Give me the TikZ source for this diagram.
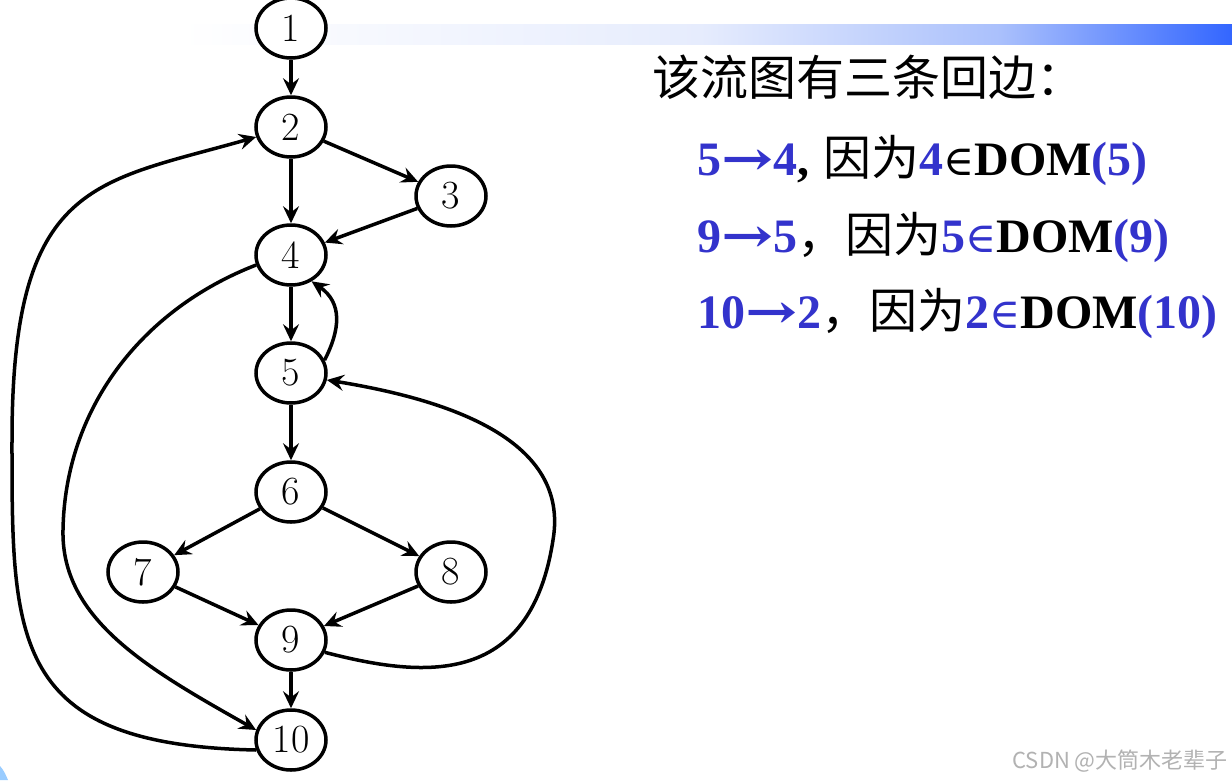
\documentclass[tikz,border=0pt]{standalone}
\usepackage{fontspec}
\newfontfamily\tnr{Liberation Serif}
\newfontfamily\dvs{DejaVu Serif}
\newfontfamily\cjk{Noto Sans CJK SC}
\usetikzlibrary{shapes.geometric,arrows.meta}
\definecolor{tblue}{RGB}{51,51,204}
\definecolor{barA}{RGB}{230,236,253}
\definecolor{barB}{RGB}{170,192,252}
\definecolor{barC}{RGB}{51,102,255}
\definecolor{cornerblue}{RGB}{153,204,255}
\newcommand{\elem}{{\dvs\mdseries\fontsize{42}{42}\selectfont ∈}}
\newcommand{\arr}{\scalebox{1.3}[1]{\dvs\bfseries\fontsize{48}{48}\selectfont →}}
\begin{document}
\begin{tikzpicture}[x=1pt,y=-1pt,
  vnode/.style={ellipse,draw,line width=3.5pt,fill=white,minimum width=70pt,minimum height=60pt,inner sep=0pt,font=\fontsize{40}{40}\selectfont},
  edge/.style={line width=3.5pt,-{Stealth[length=17pt,width=16pt,inset=6pt]}},
  txt/.style={anchor=base west,inner sep=0pt,font=\fontsize{48}{48}\selectfont}]
\useasboundingbox (0,0) rectangle (1232,780);
\fill[white] (0,0) rectangle (1232,780);
% top gradient bar
\shade[left color=white,right color=barA] (180,24) rectangle (700.5,44);
\shade[left color=barA,right color=barB] (700,24) rectangle (1000.5,44);
\shade[left color=barB,right color=barC] (1000,24) rectangle (1232,44);
% bottom-left corner decoration
\fill[cornerblue] (0,766) .. controls (4,771) .. (8,780) -- (0,780) -- cycle;
% nodes
\node[vnode] (n1) at (291,28) {1};
\node[vnode] (n2) at (291,127) {2};
\node[vnode] (n3) at (451,196) {3};
\node[vnode] (n4) at (291,255) {4};
\node[vnode] (n5) at (291,373) {5};
\node[vnode] (n6) at (291,492) {6};
\node[vnode] (n7) at (143,572) {7};
\node[vnode] (n8) at (451,572) {8};
\node[vnode] (n9) at (291,640) {9};
\node[vnode] (n10) at (291,740) {10};
% edges
\draw[edge] (n1) -- (n2);
\draw[edge] (n2) -- (n3);
\draw[edge] (n2) -- (n4);
\draw[edge] (n3) -- (n4);
\draw[edge] (n4) -- (n5);
\draw[edge] (n5.21) .. controls (340,330) and (343,303) .. (n4.-52);
\draw[edge] (n5) -- (n6);
\draw[edge] (n6) -- (n7);
\draw[edge] (n6) -- (n8);
\draw[edge] (n7) -- (n9);
\draw[edge] (n8) -- (n9);
\draw[edge] (n9) -- (n10);
\draw[edge] (n9.-20) .. controls (420,677) and (530,690) .. (553,540) .. controls (570,440) and (450,400) .. (n5.-11);
\draw[edge] (n4.196) .. controls (140,310) and (65,410) .. (63,530) .. controls (61,620) and (150,670) .. (n10.164);
\draw[edge] (n10.196) .. controls (10,745) and (12,640) .. (12,440) .. controls (12,180) and (95,183) .. (n2.196);
% text
\node[txt] (t0) at (652,95) {\cjk 该流图有三条回边：};
\node[txt] (t1) at (697,175) {\tnr\bfseries\textcolor{tblue}{5\arr4},\hspace{14pt}{\cjk\mdseries 因为}\textcolor{tblue}{4}\elem DOM\textcolor{tblue}{(5)}};
\node[txt] (t2) at (697,252) {\tnr\bfseries\textcolor{tblue}{9\arr5}{\cjk\mdseries ，因为}\textcolor{tblue}{5\elem}DOM\textcolor{tblue}{(9)}};
\node[txt] (t3) at (697,328) {\tnr\bfseries\textcolor{tblue}{10\arr2}{\cjk\mdseries ，因为}\textcolor{tblue}{2\elem}DOM\textcolor{tblue}{(10)}};
\node[anchor=base east,inner sep=0pt,text=black!30,font=\cjk\fontsize{22}{22}\selectfont] (wm) at (1228,768) {CSDN @大筒木老辈子};
\end{tikzpicture}
\end{document}
